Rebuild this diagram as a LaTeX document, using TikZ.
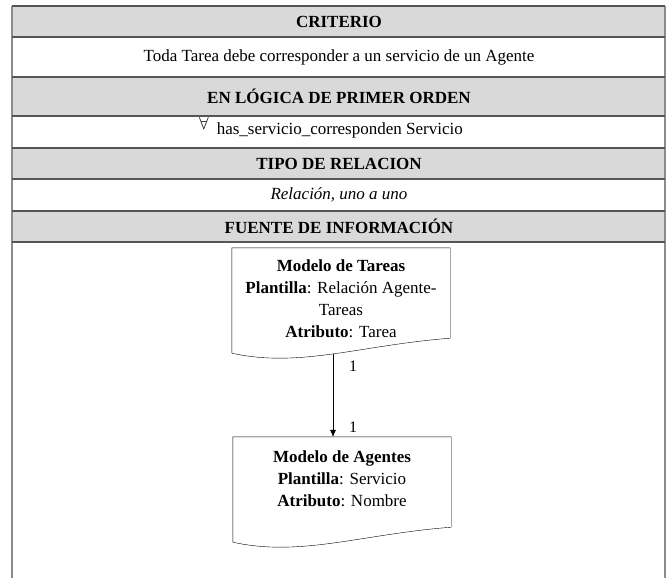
\documentclass[tikz,border=0pt]{standalone}
\usepackage{fontspec}
\setmainfont{Liberation Serif}
\usepackage{tikz}
\usetikzlibrary{positioning,arrows.meta}

\definecolor{hdrgray}{RGB}{217,217,217}
\definecolor{rulegray}{RGB}{85,85,85}
\definecolor{sidegray}{RGB}{140,140,140}

\tikzset{
  hdrtext/.style={inner sep=0pt, font=\bfseries\fontsize{17}{19}\selectfont},
  celltext/.style={inner sep=0pt, font=\fontsize{17}{19}\selectfont},
  docbox/.style={minimum width=218pt, minimum height=105pt, inner sep=0pt},
  doctext/.style={align=center, inner sep=0pt, font=\fontsize{17}{22}\selectfont},
  mult/.style={inner sep=0pt, font=\fontsize{16}{18}\selectfont}
}

\begin{document}
\begin{tikzpicture}[x=1pt,y=-1pt]
    \useasboundingbox (0,0) rectangle (672,578);
    % header bands
    \fill [hdrgray] (12,6) rectangle (665,37);
    \fill [hdrgray] (12,77) rectangle (665,116);
    \fill [hdrgray] (12,148) rectangle (665,179);
    \fill [hdrgray] (12,211) rectangle (665,242);
    \draw [sidegray, line width=1.5pt] (12,6) -- (12,578);
    \draw [sidegray, line width=1.5pt] (665,6) -- (665,578);
    \foreach \y in {6,37,77,116,148,179,211,242}
      \draw [rulegray, line width=1.4pt] (12,\y) -- (665,\y);
    % rows
    \node [hdrtext] (criterio) at (339,21.5) {CRITERIO};
    \node [celltext] (toda) at (339,57) {Toda Tarea debe corresponder a un servicio de un Agente};
    \node [hdrtext] (logica) at (339,96.5) {EN LÓGICA DE PRIMER ORDEN};
    \node [celltext] (formula) at (331,128) {\raisebox{5pt}{$\forall$}\hspace{8pt}has\_servicio\_corresponden Servicio};
    \node [hdrtext] (tipo) at (339,163.5) {TIPO DE RELACION};
    \node [celltext] (relacion) at (339,195) {\itshape Relación, uno a uno};
    \node [hdrtext] (fuente) at (339,226.5) {FUENTE DE INFORMACIÓN};
    % documents
    \node [docbox] (tareas) at (341,300.5) {};
    \draw [black] (tareas.south west) -- (tareas.north west) -- (tareas.north east)
      -- ([yshift=15pt]tareas.south east) .. controls +(-90,7) and +(68,15) .. (tareas.south west);
    \coordinate (tareas-out) at (333,354);
    \node [doctext, below=12pt of tareas.north] (tareas-txt)
      {\textbf{Modelo de Tareas}\\\textbf{Plantilla}: Relación Agente-\\Tareas\\\textbf{Atributo}: Tarea};
    \node [docbox] (agentes) at (342,489.5) {};
    \draw [black] (agentes.south west) -- (agentes.north west) -- (agentes.north east)
      -- ([yshift=15pt]agentes.south east) .. controls +(-90,7) and +(68,15) .. (agentes.south west);
    \node [doctext, below=14pt of agentes.north] (agentes-txt)
      {\textbf{Modelo de Agentes}\\\textbf{Plantilla}: Servicio\\\textbf{Atributo}: Nombre};
    % relation
    \draw [-{Latex[length=7pt,width=6pt]}] (tareas-out) -- (tareas-out |- agentes.north);
    \node [mult] (m1) at (353,366) {1};
    \node [mult] (m2) at (353,427) {1};
\end{tikzpicture}
\end{document}
